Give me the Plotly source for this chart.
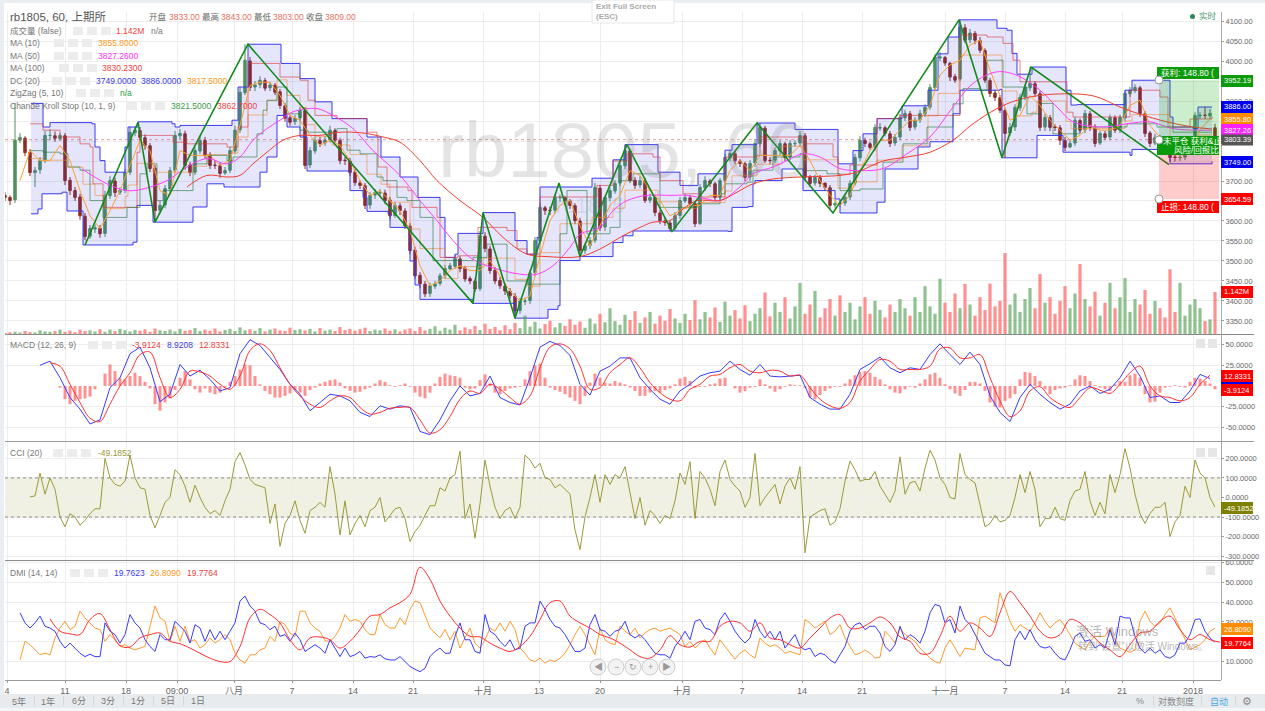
import plotly.graph_objects as go

FONT = "Liberation Sans, Noto Sans CJK SC, sans-serif"
W, H = 1265, 711

# ---- candle data (one sample every 5 axis units, starting at 5)
closes = [3659,3651,3802,3809,3771,3721,3726,3751,3814,3814,
3807,3814,3701,3676,3659,3613,3561,3581,3583,3568,
3664,3701,3671,3676,3721,3822,3827,3809,3789,3731,
3626,3639,3681,3726,3814,3819,3739,3721,3776,3802,
3764,3739,3739,3719,3726,3776,3827,3922,4002,3934,
3940,3952,3932,3940,3922,3889,3857,3847,3857,3877,
3739,3776,3802,3794,3802,3827,3802,3751,3751,3721,
3696,3689,3639,3664,3671,3671,3651,3613,3639,3626,
3588,3526,3463,3443,3418,3438,3443,3463,3481,3488,
3506,3481,3455,3450,3430,3563,3531,3476,3450,3438,
3425,3413,3375,3400,3400,3470,3551,3634,3626,3626,
3659,3659,3651,3639,3601,3526,3538,3551,3684,3583,
3659,3676,3694,3739,3776,3701,3689,3701,3651,3659,
3621,3601,3596,3581,3613,3651,3659,3644,3593,3684,
3701,3694,3659,3701,3759,3769,3751,3744,3709,3744,
3794,3834,3751,3751,3776,3794,3759,3794,3794,3814,
3709,3694,3709,3694,3684,3639,3644,3644,3659,3694,
3759,3802,3794,3784,3834,3834,3819,3794,3809,3859,
3869,3834,3852,3869,3884,3934,4010,4010,3995,3960,
3952,4085,4052,4070,4052,4027,3952,3919,3909,3877,
3819,3834,3884,3909,3934,3944,3919,3834,3859,3834,
3834,3802,3784,3794,3852,3827,3869,3834,3794,3819,
3809,3859,3827,3859,3919,3927,3934,3869,3819,3794,
3809,3807,3797,3759,3759,3759,3776,3776,3864,3864,
3864,3869,3809]
opens = [3664,3659,3653,3802,3807,3772,3721,3728,3752,3814,
3813,3806,3813,3702,3676,3660,3612,3562,3580,3582,
3569,3663,3700,3672,3677,3722,3821,3826,3808,3788,
3732,3627,3640,3680,3727,3813,3818,3740,3722,3775,
3801,3765,3740,3738,3720,3727,3775,3828,3921,4000,
3935,3941,3951,3933,3939,3923,3888,3858,3848,3858,
3876,3740,3775,3801,3795,3803,3826,3801,3752,3750,
3722,3695,3688,3640,3665,3670,3670,3652,3614,3638,
3625,3587,3527,3464,3442,3419,3437,3444,3464,3480,
3487,3505,3482,3456,3449,3431,3562,3530,3477,3451,
3437,3424,3412,3376,3399,3401,3471,3550,3633,3627,
3627,3658,3658,3650,3638,3600,3527,3539,3552,3682,
3585,3658,3675,3695,3738,3775,3702,3690,3700,3652,
3658,3620,3600,3595,3582,3614,3650,3658,3643,3594,
3683,3700,3693,3660,3702,3758,3768,3750,3743,3710,
3745,3793,3832,3752,3752,3775,3793,3760,3793,3795,
3813,3710,3695,3708,3695,3683,3640,3645,3645,3660,
3695,3758,3801,3793,3785,3832,3833,3818,3795,3810,
3858,3868,3835,3853,3868,3885,3933,4008,4009,3994,
3961,3955,4083,4053,4069,4051,4026,3951,3920,3908,
3876,3820,3835,3883,3910,3933,3943,3918,3835,3858,
3835,3833,3801,3785,3795,3851,3828,3868,3833,3795,
3818,3810,3858,3828,3858,3918,3926,3933,3868,3820,
3795,3808,3806,3796,3760,3758,3760,3775,3777,3863,
3865,3863,3833]
highs = [3672,3664,3895,3820,3812,3780,3735,3760,3825,3830,
3824,3820,3820,3710,3685,3668,3620,3590,3592,3590,
3675,3712,3708,3684,3730,3835,3835,3835,3816,3795,
3740,3650,3690,3735,3825,3830,3826,3748,3785,3815,
3810,3772,3752,3746,3735,3785,3838,3935,4042,4010,
3950,3962,3958,3948,3945,3930,3895,3865,3865,3885,
3885,3785,3812,3810,3812,3838,3832,3808,3760,3758,
3730,3702,3695,3672,3680,3680,3678,3660,3648,3645,
3632,3595,3535,3472,3450,3446,3450,3470,3490,3495,
3515,3512,3488,3462,3456,3575,3572,3538,3485,3460,
3445,3432,3420,3408,3408,3478,3560,3645,3638,3636,
3668,3666,3662,3655,3644,3608,3545,3560,3695,3690,
3662,3684,3702,3748,3790,3780,3710,3712,3708,3668,
3665,3628,3608,3600,3622,3660,3668,3665,3650,3692,
3712,3705,3698,3708,3768,3778,3775,3755,3748,3752,
3805,3845,3838,3760,3784,3802,3798,3802,3802,3825,
3820,3715,3716,3715,3695,3690,3652,3652,3668,3702,
3768,3812,3808,3798,3842,3845,3838,3825,3818,3868,
3878,3875,3860,3878,3892,3942,4018,4022,4012,3998,
3968,4103,4092,4080,4075,4060,4032,3958,3928,3915,
3882,3845,3892,3918,3942,3985,3950,3925,3868,3865,
3842,3840,3810,3802,3860,3856,3878,3875,3842,3825,
3825,3866,3864,3866,3926,3935,3942,3938,3875,3825,
3818,3815,3812,3802,3768,3765,3785,3785,3872,3872,
3886,3880,3843]
lows = [3650,3640,3645,3795,3762,3712,3685,3718,3745,3802,
3798,3800,3690,3665,3650,3603,3552,3555,3570,3558,
3560,3655,3660,3665,3670,3715,3812,3800,3778,3722,
3598,3618,3632,3672,3720,3805,3728,3712,3715,3768,
3755,3730,3730,3708,3715,3720,3768,3820,3915,3925,
3925,3932,3925,3925,3915,3880,3848,3838,3840,3850,
3730,3732,3768,3785,3788,3796,3795,3742,3740,3712,
3688,3680,3630,3630,3655,3660,3642,3604,3608,3615,
3580,3518,3455,3432,3410,3410,3430,3438,3455,3478,
3480,3472,3448,3442,3422,3425,3522,3468,3442,3430,
3415,3405,3357,3368,3390,3392,3462,3542,3615,3615,
3618,3648,3642,3630,3592,3511,3518,3530,3545,3575,
3575,3650,3668,3688,3730,3695,3680,3682,3645,3645,
3612,3592,3588,3574,3575,3605,3645,3635,3585,3590,
3675,3685,3650,3650,3695,3750,3742,3735,3700,3700,
3735,3785,3745,3742,3745,3765,3750,3752,3785,3785,
3700,3685,3688,3685,3675,3630,3632,3635,3638,3652,
3688,3750,3785,3778,3775,3825,3812,3785,3788,3802,
3850,3825,3828,3845,3860,3878,3925,4000,3988,3950,
3945,3950,4045,4045,4042,4020,3945,3910,3900,3870,
3758,3812,3825,3875,3902,3925,3910,3825,3825,3825,
3825,3790,3775,3782,3788,3820,3820,3825,3785,3790,
3802,3802,3820,3820,3850,3910,3920,3860,3810,3785,
3790,3798,3790,3749,3749,3750,3752,3768,3770,3855,
3855,3855,3803]
volumes_m = [.03,.05,.06,.04,.08,.05,.04,.1,.07,.06,.08,.12,.06,.09,.05,.12,.08,.1,.07,.13,
.06,.12,.08,.14,.1,.07,.11,.09,.13,.06,.15,.1,.08,.12,.07,.14,.09,.11,.16,.08,
.12,.09,.15,.07,.11,.14,.08,.18,.1,.13,.09,.16,.07,.12,.15,.1,.08,.17,.11,.13,
.1,.14,.07,.16,.09,.12,.08,.19,.11,.14,.09,.13,.17,.08,.12,.1,.15,.09,.13,.07,
.12,.15,.08,.19,.1,.14,.21,.09,.17,.12,.25,.1,.18,.13,.22,.11,.28,.14,.19,.1,
.24,.13,.3,.16,.5,.2,.33,.15,.27,.36,.18,.3,.22,.4,.25,.34,.17,.42,.28,.55,
.32,.7,.35,.25,.52,.38,.62,.3,.45,.6,.28,.5,.36,.68,.42,.3,.55,.38,.92,.4,
.6,.45,.72,.33,.88,.5,.65,.42,.78,.35,.55,.7,1.13,.48,.85,.6,1.0,.42,.75,1.39,
.55,.8,1.17,.45,.7,.95,.5,1.05,.6,.85,.4,.75,1.0,.55,.9,.65,.45,.8,.6,.95,
.7,.5,1.0,.6,1.3,.75,.55,1.5,.85,.6,1.1,.7,1.36,.8,.5,1.0,.65,1.37,.75,.9,
2.2,.8,1.1,.6,.95,1.25,.7,1.63,.85,1.0,.55,.9,1.3,.7,1.1,1.9,.95,.75,1.15,.5,
.85,1.39,.7,1.0,1.52,.6,.95,.8,1.2,.55,.9,.7,.45,1.76,.6,1.39,.5,.8,.95,.7,
.35,.4,1.142]

# ---- overlays on the price pane
ma10 = [3701,3776,3751,3751,3789,3751,3676,3613,3581,3626,3676,3739,3802,3776,3676,3664,3776,3764,3764,3764,
3739,3751,3839,3939,3947,3947,3914,3864,3852,3814,3789,3802,3789,3751,3701,3664,3676,3651,3626,3576,
3488,3438,3450,3476,3488,3476,3476,3501,3463,3425,3400,3413,3513,3601,3639,3651,3588,3538,3588,3639,
3664,3726,3714,3676,3651,3613,3626,3639,3639,3664,3664,3726,3751,3726,3764,3764,3764,3764,3789,3751,
3701,3664,3639,3664,3726,3776,3802,3802,3827,3852,3852,3889,3965,3990,4002,4040,4052,3977,3914,3852,
3864,3914,3889,3852,3827,3802,3814,3839,3827,3827,3839,3889,3902,3839,3809,3781,3764,3776,3827,3856]
ma50_pos = [82,107,127,143,167,187,207,227,240,253,267,280,293,317,333,353,373,400,420,437,453,470,487,520,537,553,570,580,600,613,627,647,670,687,707,720,740,753,773,787,803,820,840,860,883,907,930,953,973,997,1017,1040,1057,1073,1103,1127,1150,1173,1212]
ma50 = [3730,3693,3676,3680,3701,3735,3756,3743,3760,3802,3831,3852,3873,3881,3864,3831,3776,3714,3651,3601,3551,3509,3488,3467,3467,3488,3534,3567,3584,3626,3651,3664,3664,3664,3655,3651,3685,3718,3735,3751,3768,3760,3731,3726,3731,3768,3810,3885,3944,3973,3964,3927,3885,3848,3835,3843,3848,3831,3827]
ma100_pos = [187,207,227,240,253,267,283,300,320,340,363,383,400,420,437,460,483,503,527,547,580,600,623,640,653,670,683,697,720,737,753,773,800,840,857,883,907,930,953,973,997,1017,1047,1093,1120,1140,1167,1193,1212]
ma100 = [3685,3714,3710,3714,3743,3772,3802,3814,3814,3822,3820,3810,3797,3751,3701,3651,3609,3559,3517,3511,3511,3530,3563,3584,3597,3601,3630,3651,3651,3672,3693,3705,3710,3714,3722,3750,3760,3772,3802,3843,3881,3902,3916,3913,3885,3867,3848,3835,3830]
dc_upper_pos = [31,43,50,92,95,100,105,125,128,138,172,175,180,232,238,248,281,300,315,332,367,381,400,418,440,445,455,458,483,515,527,537,540,592,613,625,658,680,698,725,732,757,795,838,853,863,877,902,928,938,948,959,997,1007,1012,1017,1032,1066,1071,1077,1125,1132,1170,1173,1193,1198,1212]
dc_upper = [3894,3835,3846,3843,3785,3751,3722,3785,3835,3848,3843,3835,3839,3852,3935,4042,3994,3956,3898,3856,3810,3760,3710,3659,3609,3509,3517,3569,3621,3551,3517,3559,3685,3707,3753,3791,3722,3689,3718,3777,3791,3845,3829,3743,3776,3818,3856,3888,3927,4018,4060,4103,4082,4077,4019,3967,3985,3927,3890,3891,3927,3952,3860,3835,3831,3885,3885]
dc_lower_pos = [31,38,42,62,67,83,133,137,153,190,193,207,224,257,260,267,277,287,300,307,342,350,363,367,388,390,407,410,415,420,473,515,548,558,560,580,613,623,633,728,732,748,753,755,782,802,803,835,840,868,877,885,918,930,953,960,1000,1002,1035,1037,1060,1063,1130,1132,1157,1170,1212]
dc_lower = [3618,3630,3668,3672,3625,3540,3547,3639,3597,3597,3635,3693,3685,3685,3722,3760,3864,3835,3810,3725,3725,3676,3659,3624,3618,3584,3584,3500,3440,3404,3394,3357,3379,3388,3501,3511,3546,3563,3575,3574,3634,3636,3693,3701,3730,3730,3676,3655,3620,3620,3647,3730,3785,3798,3868,3927,3929,3758,3758,3814,3814,3772,3764,3779,3781,3743,3749]
dc_mid_pos = [31,43,67,83,95,105,125,128,137,153,193,207,232,238,248,267,277,287,300,307,315,332,350,367,381,390,410,420,445,458,483,515,527,540,560,592,613,625,658,680,698,725,732,757,782,803,838,853,877,902,928,938,959,1002,1017,1032,1037,1066,1071,1125,1132,1170,1198,1212]
dc_mid = [3756,3752,3735,3692,3664,3631,3662,3690,3744,3722,3737,3766,3770,3810,3865,3901,3953,3914,3883,3841,3811,3790,3766,3717,3692,3647,3580,3531,3456,3486,3507,3454,3437,3521,3593,3609,3632,3677,3648,3632,3646,3675,3713,3742,3787,3753,3682,3698,3752,3788,3863,3919,4015,3925,3863,3872,3900,3849,3831,3850,3866,3801,3815,3817.5]
chande_red_pos = [30,43,60,80,90,93,103,123,137,140,173,187,227,238,248,277,280,300,308,315,337,367,377,378,387,408,412,420,437,440,458,478,507,517,527,540,590,597,613,627,653,660,683,700,725,757,760,803,820,833,838,850,877,900,930,960,987,1003,1013,1020,1060,1067,1073,1130,1160,1168,1190,1212]
chande_red = [3843,3827,3810,3793,3785,3693,3634,3634,3772,3814,3797,3793,3785,3835,3994,3994,3960,3952,3902,3864,3856,3822,3810,3735,3685,3676,3634,3634,3609,3509,3513,3584,3576,3530,3517,3660,3660,3689,3750,3768,3760,3701,3668,3660,3760,3764,3810,3793,3793,3760,3717,3740,3856,3864,3864,4065,4060,4044,4002,3948,3948,3872,3860,3927,3910,3835,3855,3862.7]
chande_green_pos = [30,43,60,68,80,90,103,127,140,147,157,163,190,193,207,227,233,257,263,267,277,287,300,308,330,337,347,360,377,383,397,407,420,433,460,473,487,507,527,550,560,567,577,587,610,620,633,653,660,683,697,720,725,747,753,773,800,803,827,840,860,883,903,927,953,963,980,987,1003,1027,1040,1053,1080,1127,1157,1173,1212]
chande_green = [3776,3772,3768,3735,3727,3651,3609,3634,3718,3743,3651,3676,3676,3743,3764,3751,3760,3818,3877,3902,3935,3868,3827,3822,3822,3831,3777,3768,3710,3701,3659,3651,3609,3501,3501,3509,3542,3450,3442,3442,3568,3676,3676,3568,3584,3701,3718,3718,3634,3634,3643,3668,3693,3697,3727,3760,3768,3726,3718,3676,3680,3747,3793,3835,3893,3931,3927,4002,3935,3868,3894,3818,3835,3843,3835,3822,3821.5]
zigzag_pos = [85,138,155,248,473,483,515,559,580,627,672,757,833,959,1002,1031,1169]
zigzag = [3540,3847,3597,4042,3394,3621,3357,3695,3511,3791,3574,3845,3620,4103,3758,3985,3741]

# ---- MACD
macd_blue = [25,30,10,-14,-28,-46,-41,-2,10,39,47,22,-19,-10,26,12,19,8,-6,-2,39,56,49,34,20,2,-10,-30,-20,-10,-12,-18,-32,-37,-24,-28,-24,-26,-55,-59,-41,-18,0,-12,-9,12,-14,-20,-23,10,47,54,49,37,2,-11,18,24,34,34,
10,-4,-16,-22,-6,2,12,16,18,30,20,13,26,12,11,12,13,-14,-22,-28,-28,-10,20,27,35,22,16,22,20,38,51,38,26,41,26,-12,-32,-43,-14,2,-10,-20,-28,-22,-6,0,-9,-4,10,30,12,-14,-12,-20,-20,-6,14,9]
macd_red = [28,24,2,-20,-39,-43,-22,0,16,38,41,10,-14,-4,18,17,12,2,-4,12,43,51,43,22,2,-12,-22,-26,-18,-12,-14,-26,-34,-32,-27,-26,-26,-41,-57,-53,-37,-16,-6,-9,2,-4,-14,-22,-12,22,47,51,45,24,-4,-2,16,26,34,22,
4,-8,-16,-18,-4,2,12,14,22,26,18,16,19,18,12,13,-2,-16,-24,-27,-20,6,20,32,30,20,20,20,24,45,46,34,34,38,10,-18,-37,-30,-6,-1,-14,-22,-26,-14,-2,-5,-9,2,16,24,0,-12,-14,-18,-14,2,13]
macd_hist = [0,-2,-16,-22,-18,-16,-15,-13,-4,0,15,26,18,10,8,12,16,12,5,-3,-22,-30,-20,-15,-5,10,18,8,-4,-8,-3,-8,-10,-8,-2,5,12,20,26,25,12,2,-6,-10,-14,-14,-12,-9,-5,-8,-12,-5,-2,3,5,7,8,4,-3,-6,-8,-7,-4,-2,3,7,5,1,-1,1,3,-1,-8,-13,-15,-8,3,11,15,13,12,10,-2,-4,-3,7,14,3,-8,-10,-6,-3,-2,-1,8,18,25,27,10,-2,-5,-7,-10,-14,-18,-22,-12,4,15,10,4,3,6,4,2,-2,-6,
-12,-12,-8,-6,-8,-5,-3,2,9,11,6,-2,-1,-1,2,3,9,10,0,-3,-8,-6,-2,-1,8,2,-3,-7,-4,-1,2,1,1,-2,-14,-16,-11,-6,-3,-1,-1,3,8,13,17,18,16,11,8,2,-4,-8,-9,-4,-1,-2,3,8,14,16,10,2,-4,-9,-12,-5,5,5,3,-6,-20,-25,-26,-18,-15,-10,8,17,16,12,6,-4,-10,-5,-3,-2,1,8,13,12,6,1,-2,-4,-6,2,6,5,13,15,10,-10,-20,-19,-8,-2,-1,1,-1,-2,5,10,9,6,3,-4]

# ---- CCI
cci_a = [3,8,125,17,100,42,-100,-150,-83,-100,-142,-117,-83,-58,-58,200,100,67,58,83,217,100,50,42,-92,-155,-92,-25,0,142,117,58,-25,63,0,-50,-83,-67,-92,-17,42,183,230,167,92,67,58,50,-133,-33,-250,-133,-92,-17,-117,-183,-67,-50,-25,-50,158,17,-192,-17,-192,-133,-92,-150,-67,-50,0,-125,-92,-58,-50,-108,-225,-175,-142,-92,-42,-42,50,33,100,117,237,-108,-33,-208,-33,192,58,-50,-108,-67,-50,-108,-50,217,192,150,175,100,92,50,67,42,17,-167,-267,-100,0,117,-25,117,67,117,100,158,17,-108]
cci_b = [0,-142,-67,-92,-133,-92,-108,-17,125,67,183,-108,133,100,42,-42,133,192,92,58,33,-50,0,225,-42,0,33,67,-33,58,100,42,158,-283,-100,-83,-67,-58,-142,-125,-58,83,187,142,83,92,92,133,58,17,-25,33,208,17,75,83,33,150,242,192,100,67,0,-8,225,117,92,75,-33,-150,-133,-92,-125,-117,-92,0,117,25,133,42,-150,-108,-108,-50,-108,-117,-17,33,42,133,-17,-92,-25,-83,117,25,117,250,150,17,-83,-133,-83,-50,-50,-25,-200,-125,-92,58,0,192,125,100,0,-49.1852]

# ---- DMI
dmi_blue_a = [34.6,29.5,26.9,29.5,32.9,27.8,26.9,25.3,20.2,16.8,19.3,16.8,14.2,12.5,13.7,12.5,12.5,29.5,25.3,23.6,19.3,23.6,33.7,29.5,26.9,21,17.6,15.1,23.6,21,21,30.3,27.8,25.3,19.3,28.6,26.9,20.2,26.1,21,25.3,21,25.3,29.5,40.5,43,38,35.4,29.5,28.6,26.1,27.8,22.7,23.6,20.2,24.4,21,15.1,16.8,18.5,16.8,14.2,21,16.8,12.5,16.8,12.5,13.4,15.1,11.7,12.5,12.2,13.4,11.4,10.8,10.8,12.5,10,7.5,6.1,4.9,6.6,12.5,15.1,16.8,14.2,14.2,22.7,29.5,21,21,15.1,14.2,33.7,25.3,23.6,20.2,17.6,21,15.9,16.8,27.8,29.5,29.5,40.5,36.3,31.2,27.8,26.9,23.6,19.3,15.1,15.1,16.8,28.6,33.7,26.1,25.3,22.7,25.3,26.1,30.3,23.6,21.9]
dmi_blue_b = [23.6,21,17.6,14.2,13.4,13.4,11.7,17.6,21,25.3,21,30.3,31.2,26.9,26.1,23.6,31.2,34.6,30.3,25.3,21.9,19.3,21.9,31.2,25.3,21.9,25.3,21,25.3,16.8,20.2,23.6,17.6,15.9,16.8,12.5,14.2,13.4,10.8,9.2,13.4,17.6,25.3,28.6,29.5,26.1,27.8,27.8,24.4,17.6,15.1,18.5,27.8,21,23.6,21.9,19.3,25.3,34.6,38.8,38,29.5,31.2,24.4,38,31.2,28.6,23.6,19.3,14.2,12.5,10.8,10.8,8.3,7.8,21,25.3,21,26.1,21,17.6,16.8,17.6,14.2,11.7,10.8,15.9,22.7,24.4,20.2,21,16.8,18.5,16.8,26.1,18.5,32.9,32,32,22.7,16.8,14.2,16.8,14.2,15.9,12.5,11.7,13.4,19.3,19.3,23.6,31.2,31.5,25.3,21.9,19.7623]
dmi_orange_a = [10.8,20.2,18.5,15.9,13.4,14.2,13.4,21.9,26.9,30.3,26.1,27.8,35.4,32,29.5,26.9,26.1,20.2,23.6,21,17.6,18.5,16.8,15.9,16.8,17.6,27.8,38,32,30.3,20.2,27.8,20.2,27.8,20.2,21,16.8,18.5,21.9,19.3,21,23.6,21,14.2,10.8,9.2,13.4,13.4,15.9,16.8,22.7,20.2,30.3,28.6,24.4,22.7,35.4,35.4,29.5,26.9,25.3,20.5,20.2,22.7,26.9,33.7,30.3,31.2,30.3,26.1,23.6,23.6,33.7,28.6,26.9,26.9,32,28.6,36.3,40.5,39.7,32.9,26.9,24.4,21.9,26.1,21,25.3,16.8,21.9,26.9,19.3,16.8,21,26.9,25.3,29.5,25.3,30.3,26.1,16.8,14.2,10.8,10,11.7,9.2,10.8,10,11.7,14.2,18.5,23.6,27.8,23.6,18.5,13.4,26.9,21,19.3,18.5,27.8,25.3,23.6,26.9]
dmi_orange_b = [21.9,24.4,26.1,26.9,25.3,26.1,26.9,25.3,23.6,17.6,20.2,16.8,19.3,21,16.8,13.4,21,17.6,14.2,11.2,14.2,15.9,13.4,11.7,21.9,19.3,17.6,18.5,16.8,14.2,15.1,14.2,13.4,31.2,29.5,26.9,28.6,30.3,23.6,25.3,28.6,21.9,17.6,13.4,14.2,15.9,14.2,11.7,12.2,25.3,22.7,19.3,26.9,23.6,21.9,20.2,16.8,14.2,11.7,10,9.2,16.8,21,16.8,12.5,16.8,16.3,15.9,32,32.9,31.2,29.5,44.7,38,30.3,25.3,28.6,26.9,25.3,29.5,34.6,30.3,26.9,29.5,31.2,27.8,23.6,19.3,17.6,15.9,20.2,22.7,22.7,22.7,26.9,21,16.8,15.6,14.6,15.9,30.3,35.4,30.3,27.8,29.5,33.7,37.1,32,26.9,21,15.9,17.3,18.5,21,25.3,26.809]
dmi_red = [31.5,25.3,24,23.6,31.2,34.2,26.1,18,17.3,21.9,23.6,24.4,20.2,19,16.8,14.2,11.7,10,10,17.6,32,36.3,33.7,29.5,21,15.9,21.9,22.4,21,16.8,20.2,26.1,32.9,33.7,37.1,39.7,43.9,57.5,51.5,40.5,32.9,26.9,22.7,22.4,19.3,16.8,15.1,17.6,22.7,31.2,39.7,40.5,32.9,29.5,26.9,23.6,21.9,19.3,15.9,
12.5,11.7,15.9,23,18.5,17.3,20.2,20.2,27.8,30.3,29.5,25.3,29.5,21.9,21,18.5,16.8,21.9,26.9,32,33.7,26.9,26.9,29.5,32.5,29.5,22.4,20.2,14.2,14.2,22.7,32.9,25.3,29.5,26.9,22.7,34.6,45.3,39.7,32.9,25.3,21.9,23.6,31.2,29.5,24.4,19.3,15.9,12.5,18.5,24.4,25.3,30.3,32.9,26.1,21,23.6,21,19.7764]

# ---- ticks
x_tick_vals = [7,65,126,177,234,292,353,413,483,539,600,682,742,802,862,945,1005,1065,1122,1193]
x_tick_text = ["4","11","18","09:00","八月","7","14","21","十月","13","20","十月","7","14","21","十一月","7","14","21","2018"]
price_ticks = [4100,4050,4000,3950,3900,3850,3800,3750,3700,3650,3600,3550,3500,3450,3400,3350]
macd_ticks = [50,25,-25,-50]
cci_ticks = [200,100,0,-100,-200,-300]
dmi_ticks = [60,50,40,30,20,10]

def seq(start, values, step=5):
    return [start + step * i for i in range(len(values))]

candle_pos = seq(5, closes)
GREEN_C, RED_C = "#4f9160", "#8e2f24"
fig = go.Figure()

# volume
vol_colors = ["rgba(85,160,85,0.65)" if c >= o else "rgba(255,85,85,0.65)" for o, c in zip(opens, closes)]
fig.add_trace(go.Bar(x=candle_pos, y=volumes_m, yaxis="y2", marker=dict(color=vol_colors, line_width=0), width=3.2))

# Donchian band
fig.add_trace(go.Scatter(x=dc_upper_pos, y=dc_upper, mode="lines", line=dict(color="#3a3af0", width=1, shape="hv")))
fig.add_trace(go.Scatter(x=dc_lower_pos, y=dc_lower, mode="lines", line=dict(color="#3a3af0", width=1, shape="hv"),
                         fill="tonexty", fillcolor="rgba(40,40,230,0.12)"))
fig.add_trace(go.Scatter(x=dc_mid_pos, y=dc_mid, mode="lines", line=dict(color="rgba(240,140,50,0.6)", width=1, shape="hv")))
fig.add_trace(go.Scatter(x=chande_red_pos, y=chande_red, mode="lines", line=dict(color="rgba(220,50,50,0.6)", width=1, shape="hv")))
fig.add_trace(go.Scatter(x=chande_green_pos, y=chande_green, mode="lines", line=dict(color="rgba(30,120,50,0.6)", width=1, shape="hv")))

# candles
fig.add_trace(go.Candlestick(x=candle_pos, open=opens, high=highs, low=lows, close=closes,
    increasing=dict(line=dict(color=GREEN_C, width=1), fillcolor=GREEN_C),
    decreasing=dict(line=dict(color=RED_C, width=1), fillcolor=RED_C), whiskerwidth=0))

# moving averages
fig.add_trace(go.Scatter(x=seq(20, ma10, 10), y=ma10, mode="lines", line=dict(color="#ffa030", width=1)))
fig.add_trace(go.Scatter(x=ma50_pos, y=ma50, mode="lines", line=dict(color="#ff40ff", width=1, shape="spline")))
fig.add_trace(go.Scatter(x=ma100_pos, y=ma100, mode="lines", line=dict(color="#f04030", width=1, shape="spline")))
fig.add_trace(go.Scatter(x=zigzag_pos, y=zigzag, mode="lines", line=dict(color="#128a1c", width=1.6)))

# MACD
fig.add_trace(go.Bar(x=seq(55, macd_hist), y=macd_hist, yaxis="y3", marker=dict(color="rgba(255,70,70,0.6)", line_width=0), width=3))
fig.add_trace(go.Scatter(x=seq(40, macd_blue, 10), y=macd_blue, yaxis="y3", mode="lines", line=dict(color="#3a3aff", width=1)))
fig.add_trace(go.Scatter(x=seq(50, macd_red, 10), y=macd_red, yaxis="y3", mode="lines", line=dict(color="#ff3030", width=1, shape="spline")))

# CCI
fig.add_trace(go.Scatter(x=seq(30, cci_a) + seq(640, cci_b), y=cci_a + cci_b, yaxis="y4", mode="lines", line=dict(color="#9a9a3a", width=1)))

# DMI
fig.add_trace(go.Scatter(x=seq(20, dmi_orange_a) + seq(640, dmi_orange_b), y=dmi_orange_a + dmi_orange_b, yaxis="y5", mode="lines", line=dict(color="#ff9a30", width=1)))
fig.add_trace(go.Scatter(x=seq(20, dmi_blue_a) + seq(640, dmi_blue_b), y=dmi_blue_a + dmi_blue_b, yaxis="y5", mode="lines", line=dict(color="#3a3aff", width=1)))
fig.add_trace(go.Scatter(x=seq(50, dmi_red, 10), y=dmi_red, yaxis="y5", mode="lines", line=dict(color="#ff3030", width=1, shape="spline")))

def dom(top, bottom):
    return [1 - bottom / H, 1 - top / H]

def yax(top, bottom, rng, ticks, fmt, **kw):
    return dict(domain=dom(top, bottom), range=rng, side="right", anchor="x", tickvals=ticks,
                ticktext=[fmt.format(t) for t in ticks], tickfont=dict(size=7.5, color="#666", family=FONT),
                ticks="outside", ticklen=2, tickcolor="#999", gridcolor="#ededed", zeroline=False,
                showline=True, linecolor="#aaa", fixedrange=True, **kw)

shapes, annos = [], []

def rect(x0, y0, x1, y1, fill, line=None, layer="above", r=False):
    shapes.append(dict(type="circle" if r else "rect", xref="paper", yref="paper", x0=x0 / W, x1=x1 / W,
                       y0=1 - y1 / H, y1=1 - y0 / H, fillcolor=fill, layer=layer,
                       line=dict(color=line or fill, width=1 if line else 0)))

def text(x, y, s, color="#666", size=10, anchor="left", **kw):
    annos.append(dict(xref="paper", yref="paper", x=x / W, y=1 - y / H, text=s, showarrow=False, xanchor=anchor,
                      yanchor="middle", font=dict(size=size, color=color, family=FONT), borderpad=0, **kw))

def tag(y, s, bg, h=12):
    rect(1221, y - h / 2, 1253, y + h / 2, bg)
    if s:
        text(1223, y, s, "#fff", 7.5)

# frame
rect(0, 0, 4, 711, "#e9eef2", layer="below")
rect(0, 0, 1265, 3, "#e9eef2", layer="below")
rect(0, 694, 1265, 711, "#e7ebee", layer="below")
rect(0, 708, 1265, 711, "#f3f6f8", layer="below")
rect(5, 334, 1254, 335, "#8a8a8a")
rect(5, 441, 1254, 442, "#9a9a9a")
rect(5, 560, 1254, 561, "#8a8a8a")
rect(5, 680, 1221, 681, "#9a9a9a")

# CCI band and price line (in data units)
shapes.append(dict(type="rect", xref="x", yref="y4", x0=5, x1=1221, y0=-100, y1=100, fillcolor="rgba(128,128,0,0.11)", line_width=0, layer="below"))
for lvl in (100, -100):
    shapes.append(dict(type="line", xref="x", yref="y4", x0=5, x1=1221, y0=lvl, y1=lvl, line=dict(color="#777", width=0.8, dash="dot"), layer="above"))
shapes.append(dict(type="line", xref="x", yref="y", x0=5, x1=1221, y0=3803.39, y1=3803.39, line=dict(color="rgba(200,60,60,0.7)", width=0.7, dash="dot"), layer="above"))
shapes.append(dict(type="rect", xref="x", yref="y", x0=1159, x1=1219, y0=3803.39, y1=3952.19, fillcolor="rgba(0,170,0,0.2)", line_width=0, layer="above"))
shapes.append(dict(type="rect", xref="x", yref="y", x0=1159, x1=1219, y0=3654.59, y1=3803.39, fillcolor="rgba(255,0,0,0.2)", line_width=0, layer="above"))

# watermark
text(437, 150, "rb1805, 60", "rgba(130,130,130,0.22)", 78)
text(555, 205, "rb1805", "rgba(130,130,130,0.16)", 22)

# trade tags
rect(1157, 67, 1219, 79, "#0a9a0a")
text(1160, 73, "获利: 148.80 (", "#fff", 8.5)
rect(1157, 136, 1219, 155, "#0a9a0a")
text(1162, 141, "未平仓 获利&止", "#fff", 8.5)
text(1173, 150, "风险/回报比:", "#fff", 8.5)
rect(1157, 201, 1219, 213, "#f00")
text(1160, 207, "止损: 148.80 (", "#fff", 8.5)
for cy in (80, 140, 199):
    rect(1155, cy - 4, 1163, cy + 4, "#fff", "#999", r=True)

# price tags
tag(81, "3952.19", "#0a9a0a")
tag(107, "3886.00", "#0000ee")
tag(119, "3855.80", "#ff8c00")
tag(130, "3827.26", "#ff20ff")
tag(140, "3803.39", "#555", 11)
tag(162, "3749.00", "#0000ee")
tag(199, "3654.59", "#f00")
tag(292, "1.142M", "#f00")
tag(382, "", "#0000ee", 10)
tag(376, "12.8331", "#f00")
tag(390, "-3.9124", "#f00")
tag(508, "-49.1852", "#808000")
tag(629, "26.8090", "#ff8c00")
tag(643, "19.7764", "#f00")

# header legend
VAL = "#e57060"
LEG = 8.5
text(9, 17, "rb1805, 60, 上期所", "#555", 11.5)
for xl, lab, xv, val in [(148, "开盘", 168, "3833.00"), (201, "最高", 220, "3843.00"), (253, "最低", 272, "3803.00"), (305, "收盘", 324, "3809.00")]:
    text(xl, 17, lab, "#666", 8.5)
    text(xv, 17, val, VAL, LEG)

def legend(y, label, vals, icons_x):
    text(9, y, label, "#777", LEG)
    for i in range(3):
        rect(icons_x + 14 * i, y - 4, icons_x + 10 + 14 * i, y + 4, "#ececec")
    for xv, s, c in vals:
        text(xv, y, s, c, LEG)

legend(31, "成交量 (false)", [(115, "1.142M", "#f04040"), (150, "n/a", "#777")], 73)
legend(43, "MA (10)", [(97, "3855.8000", "#ff9a20")], 54)
legend(56, "MA (50)", [(97, "3827.2600", "#ff30ff")], 54)
legend(68, "MA (100)", [(101, "3830.2300", "#f04040")], 59)
legend(81, "DC (20)", [(95, "3749.0000", "#3a3aee"), (140, "3886.0000", "#3a3aee"), (186, "3817.5000", "#ff9a20")], 52)
legend(93, "ZigZag (5, 10)", [(119, "n/a", "#2a9a3a")], 76)
legend(106, "Chande Kroll Stop (10, 1, 9)", [(170, "3821.5000", "#3a9a4a"), (216, "3862.7000", "#f04040")], 127)
legend(345, "MACD (12, 26, 9)", [(131, "-3.9124", "#f04040"), (166, "8.9208", "#3a3aee"), (198, "12.8331", "#f04040")], 88)
legend(453, "CCI (20)", [(97, "-49.1852", "#9a9a3a")], 53)
legend(573, "DMI (14, 14)", [(113, "19.7623", "#3a3aee"), (149, "26.8090", "#ff9a20"), (186, "19.7764", "#f04040")], 70)

# realtime flag
rect(1190, 14, 1195, 19, "#2a8a5a", r=True)
text(1198, 16, "实时", "#4a9a6a", 8.5)

# panel up/down buttons
for bx, by in [(1196, 339), (1208, 339), (1196, 448), (1208, 448), (1206, 566)]:
    rect(bx, by, bx + 9, by + 9, "#e6e6e6")

# exit full screen tooltip
rect(592, 0, 674, 23, "#fff", "#e6e6e6")
text(595, 7, "<b>Exit Full Screen</b>", "#aaa", 8)
text(595, 17, "<b>(ESC)</b>", "#aaa", 8)

# nav buttons
for bx, g in [(598, "◀"), (616, "−"), (633, "↻"), (650, "+"), (667, "▶")]:
    rect(bx - 8, 659, bx + 8, 675, "rgba(240,240,240,0.8)", "#ccc", r=True)
    text(bx, 667, g, "#999", 9, anchor="center")

# Windows notice
text(1075, 631, "激活 Windows", "rgba(120,120,120,0.55)", 13)
text(1077, 646, "转到“设置”以激活 Windows。", "rgba(120,120,120,0.55)", 10)

# toolbar
for xv, s in [(19, "5年"), (48, "1年"), (79, "6分"), (108, "3分"), (138, "1分"), (168, "5日"), (198, "1日")]:
    text(xv, 701, s, "#777", 9, anchor="center")
for xv in (34, 63, 93, 123, 153, 183):
    rect(xv, 696, xv + 1, 706, "#d5d9dc")
text(1140, 701, "%", "#888", 9, anchor="center")
text(1176, 701, "对数刻度", "#888", 9, anchor="center")
text(1219, 701, "自动", "#49a8e0", 9, anchor="center")
text(1247, 701, "⚙", "#888", 11, anchor="center")
for xv in (1153, 1201, 1235):
    rect(xv, 696, xv + 1, 706, "#d5d9dc")

fig.update_layout(
    width=W, height=H, autosize=False, margin=dict(l=0, r=0, t=0, b=0, autoexpand=False), showlegend=False,
    paper_bgcolor="white", plot_bgcolor="white", barmode="overlay", hovermode=False,
    font=dict(family=FONT, size=10, color="#666"),
    xaxis=dict(domain=[5 / W, 1221 / W], range=[5, 1221], anchor="y5", tickvals=x_tick_vals, ticktext=x_tick_text,
               tickfont=dict(size=9, color="#666", family=FONT), ticks="outside", ticklen=2, tickcolor="#999",
               gridcolor="#ededed", rangeslider=dict(visible=False), showline=False, fixedrange=True),
    yaxis=yax(12, 334, [3317.4, 4122.6], price_ticks, "{:.2f}"),
    yaxis2=dict(domain=dom(12, 334), range=[0, 8.75], overlaying="y", side="left", anchor="x", visible=False, fixedrange=True),
    yaxis3=yax(335, 441, [-66.6, 61.7], macd_ticks, "{:.4f}"),
    yaxis4=yax(442, 560, [-320, 284], cci_ticks, "{:.4f}"),
    yaxis5=yax(561, 680, [0.7, 60.7], dmi_ticks, "{:.4f}"),
    shapes=shapes, annotations=annos,
)

fig.write_html("out.html", config={"displayModeBar": False},
               post_script="document.body.style.margin='0';document.body.style.overflow='hidden';")
